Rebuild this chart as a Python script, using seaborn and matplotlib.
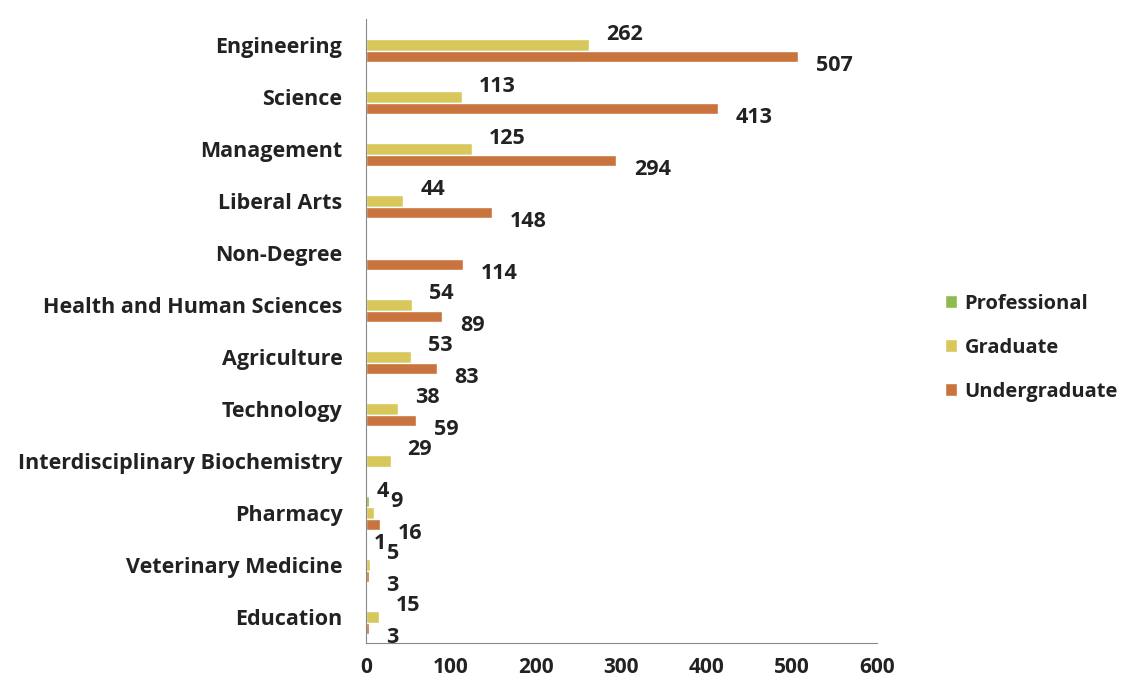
import numpy as np
import pandas as pd
import seaborn as sns
import matplotlib.pyplot as plt

# Enrollment by college and level
colleges = ['Engineering', 'Science', 'Management', 'Liberal Arts', 'Non-Degree',
            'Health and Human Sciences', 'Agriculture', 'Technology',
            'Interdisciplinary Biochemistry', 'Pharmacy', 'Veterinary Medicine', 'Education']
professional = [None, None, None, None, None, None, None, None, None, 4, 1, None]
graduate = [262, 113, 125, 44, None, 54, 53, 38, 29, 9, 5, 15]
undergraduate = [507, 413, 294, 148, 114, 89, 83, 59, None, 16, 3, 3]
levels = ['Professional', 'Graduate', 'Undergraduate']
colors = ['#8dbb4e', '#d8c85c', '#c9743f']

df = pd.DataFrame({'College': colleges * 3,
                   'Level': np.repeat(levels, len(colleges)),
                   'Count': professional + graduate + undergraduate})

sns.set_style('white')
plt.rcParams['font.family'] = ['Open Sans', 'DejaVu Sans']
plt.rcParams['font.weight'] = 'bold'

fig, ax = plt.subplots(figsize=(11.31, 6.86), dpi=100)
fig.subplots_adjust(left=0.3236, right=0.7754, bottom=0.063, top=0.972)

sns.barplot(data=df, x='Count', y='College', hue='Level', order=colleges,
            hue_order=levels, palette=colors, orient='h', width=0.66, gap=0,
            saturation=1, ax=ax)

# value labels, offset like the original chart (points)
offsets = {'Professional': (5, 7), 'Graduate': (12, 8), 'Undergraduate': (13, -6.5)}
for cont, lvl in zip(ax.containers, levels):
    dx, dy = offsets[lvl]
    for bar in cont:
        w = bar.get_width()
        if np.isnan(w):
            continue
        yc = bar.get_y() + bar.get_height() / 2
        ax.annotate(f'{int(w)}', xy=(w, yc), xytext=(dx, dy), textcoords='offset points',
                    ha='left', va='center', fontsize=15.5, fontweight='bold', color='#222222')

ax.set_xlim(0, 600)
ax.set_xticks(range(0, 601, 100))
ax.set_ylim(len(colleges) - 0.5, -0.5)
ax.set_xlabel('')
ax.set_ylabel('')

ax.set_yticks(np.arange(-0.5, len(colleges)), minor=True)
ax.tick_params(axis='y', which='major', length=0, pad=17, labelsize=15.5, labelcolor='#222222')
ax.tick_params(axis='y', which='minor', length=5, color='#888888', direction='out')
ax.tick_params(axis='x', length=5, color='#888888', direction='inout', labelsize=15,
               labelcolor='#222222', pad=8)
for lab in ax.get_yticklabels() + ax.get_xticklabels():
    lab.set_fontweight('bold')

sns.despine(ax=ax)
ax.spines['left'].set_color('#888888')
ax.spines['bottom'].set_color('#888888')

leg = ax.legend(loc='center left', bbox_to_anchor=(0.828, 0.493), bbox_transform=fig.transFigure,
                frameon=False, fontsize=14.5, handlelength=0.6, handleheight=0.6,
                handletextpad=0.4, labelspacing=1.2, borderaxespad=0)
for t in leg.get_texts():
    t.set_color('#222222')
    t.set_fontweight('bold')

fig.savefig('out.png', dpi=100)
